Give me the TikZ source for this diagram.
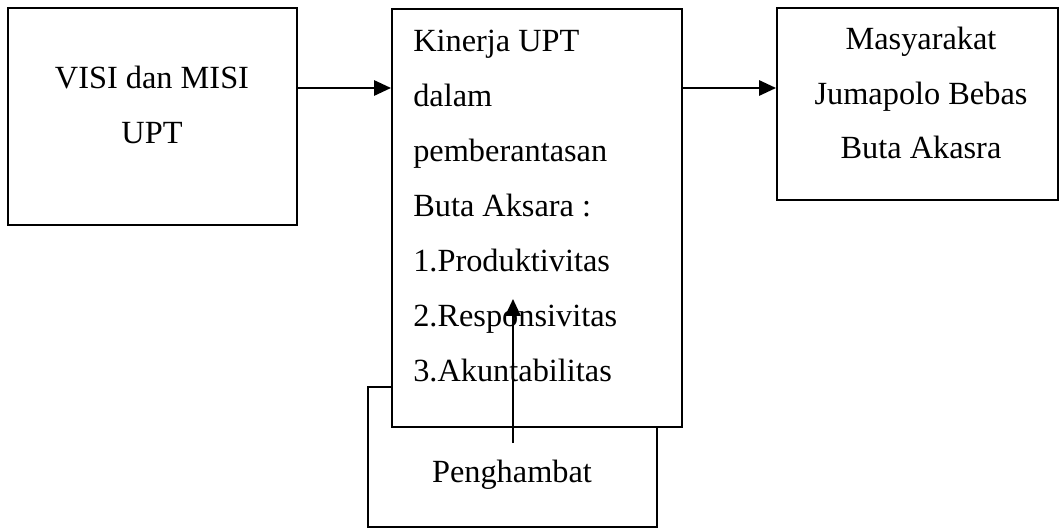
\documentclass[tikz,border=0pt]{standalone}
\usepackage{fontspec}
\setmainfont{Liberation Serif}
\usetikzlibrary{arrows.meta}

\begin{document}
\begin{tikzpicture}[x=0.025cm, y=-0.025cm,
    box/.style={draw, line width=1.4pt, fill=white, inner sep=0pt},
    boxtext/.style={inner sep=0pt, font=\fontsize{23pt}{39pt}\selectfont},
    panah/.style={line width=1.4pt, -{Triangle[length=0.42cm, width=0.38cm]}}]
    \useasboundingbox (0,0) rectangle (1059,532);

    % Penghambat (behind the middle box)
    \node[box, minimum width=7.225cm, minimum height=3.5cm] (hambat) at (512.5,457) {};
    \node[boxtext] (hambattxt) at (512,475) {Penghambat};

    % Boxes
    \node[box, minimum width=7.225cm, minimum height=5.425cm] (visi) at (152.5,116.5) {};
    \node[box, minimum width=7.25cm, minimum height=10.45cm] (kinerja) at (537,218) {};
    \node[box, minimum width=7.025cm, minimum height=4.8cm] (masyarakat) at (917.5,104) {};

    % Texts
    \node[boxtext, align=center] (visitxt) at (152,105) {VISI dan MISI\\UPT};
    \node[boxtext, align=center] (masyarakattxt) at (921,93) {Masyarakat\\Jumapolo Bebas\\Buta Akasra};
    \node[boxtext, align=left, anchor=west] (kinerjatxt) at (413,206)
        {Kinerja UPT\\dalam\\pemberantasan\\Buta Aksara :\\1.Produktivitas\\2.Responsivitas\\3.Akuntabilitas};

    % Arrows
    \coordinate (jalur) at (0,88);
    \draw[panah] (visi.east |- jalur) -- (kinerja.west |- jalur);
    \draw[panah] (kinerja.east |- jalur) -- (masyarakat.west |- jalur);

    \coordinate (hambatpangkal) at (513,443);
    \coordinate (hambatujung) at (513,299);
    \draw[panah] (hambatpangkal) -- (hambatujung);
\end{tikzpicture}
\end{document}
